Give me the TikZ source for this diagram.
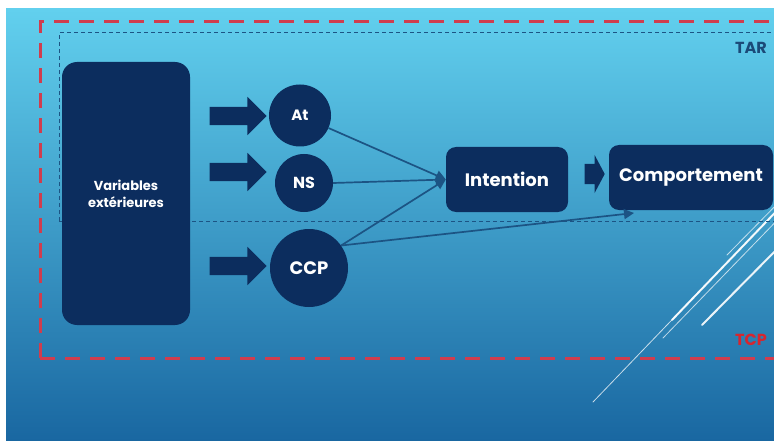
\documentclass[tikz,border=0pt]{standalone}
\usepackage{fontspec}
\setmainfont{Poppins}
\usetikzlibrary{shapes.arrows,arrows.meta}
\definecolor{navy}{HTML}{0C2D5E}
\definecolor{bgtop}{HTML}{62D0EE}
\definecolor{bgmid}{HTML}{3EA4CF}
\definecolor{bgbot}{HTML}{1967A1}
\definecolor{linecol}{HTML}{1C5484}
\definecolor{tarblue}{HTML}{1B4A78}
\definecolor{tcpred}{HTML}{D6262F}
\definecolor{dashred}{HTML}{D03D4E}
\begin{document}
\begin{tikzpicture}[x=1pt,y=-1pt,
  box/.style={fill=navy, rounded corners=#1, text=white, inner sep=0pt, align=center},
  box/.default=10pt,
  disc/.style={circle, fill=navy, text=white, inner sep=0pt, minimum size=#1},
  blockarrow/.style={single arrow, fill=navy, inner xsep=0pt, inner ysep=9pt, minimum height=57pt, single arrow head extend=10pt},
  conn/.style={draw=linecol, line width=1.7pt, -{Triangle[length=10pt,width=10pt]}},
  whiteline/.style={draw=white, line cap=round, opacity=#1},
  lbl/.style={font=\bfseries\fontsize{16}{16}\selectfont, inner sep=0pt}
]
\useasboundingbox (0,0) rectangle (774,441);
\fill[white] (0,0) rectangle (774,441);
\shade[top color=bgtop, middle color=bgmid, bottom color=bgbot] (6,9) rectangle (774,441);
\begin{scope}
  \clip (6,9) rectangle (774,441);
  % decorative white lines
  \draw[whiteline=0.75, line width=0.8pt] (593,402) -- (790,197);
  \draw[whiteline=0.9, line width=2pt] (672,320) -- (790,197);
  \draw[whiteline=0.7, line width=0.8pt] (663,338) -- (790,207);
  \draw[whiteline=0.9, line width=2pt] (702,325) -- (790,236);
  \draw[whiteline=0.7, line width=0.8pt] (727,255) -- (790,191);
  % TCP frame
  \draw[dashred, line width=3pt, dash pattern=on 15pt off 10pt] (40,358) -- (40,22) -- (790,22) (40,358) -- (790,358);
  % TAR frame
  \draw[linecol, line width=1pt, dash pattern=on 4pt off 3pt] (59,221) -- (59,33) -- (790,33) (59,221) -- (790,221);
\end{scope}
\node[lbl, text=tarblue] (tar) at (751,48) {TAR};
\node[lbl, text=tcpred] (tcp) at (751,340) {TCP};

\node[box=15pt, minimum width=128pt, minimum height=263pt, font=\bfseries\fontsize{13}{17}\selectfont] (var) at (126,193.5) {Variables\\extérieures};

\node[blockarrow] (a1) at (233.5,116) {};
\node[blockarrow] (a2) at (233.5,172) {};
\node[blockarrow] (a3) at (233.5,266) {};

\node[disc=62pt, font=\bfseries\fontsize{15}{15}\selectfont] (at) at (300,115.5) {At};
\node[disc=58pt, font=\bfseries\fontsize{16}{16}\selectfont] (ns) at (304,183) {NS};
\node[disc=78pt, font=\bfseries\fontsize{18}{18}\selectfont] (ccp) at (309,268) {CCP};

\node[box, minimum width=122pt, minimum height=65pt, font=\bfseries\fontsize{18}{18}\selectfont] (int) at (507,179.5) {Intention};
\node[box, minimum width=164pt, minimum height=65pt, font=\bfseries\fontsize{18}{18}\selectfont] (comp) at (691,177.5) {Comportement};

\node[single arrow, fill=navy, inner xsep=0pt, inner ysep=10pt, minimum height=20pt, single arrow head extend=9pt, single arrow tip angle=124] (a4) at (592,174) {};

\coordinate (cend) at (634,213);
\draw[conn] (at) -- (int.west);
\draw[conn] (ns.east) -- (int.west);
\draw[conn] (ccp.35) -- (int.west);
\draw[conn] (ccp.35) -- (cend);
\end{tikzpicture}
\end{document}
